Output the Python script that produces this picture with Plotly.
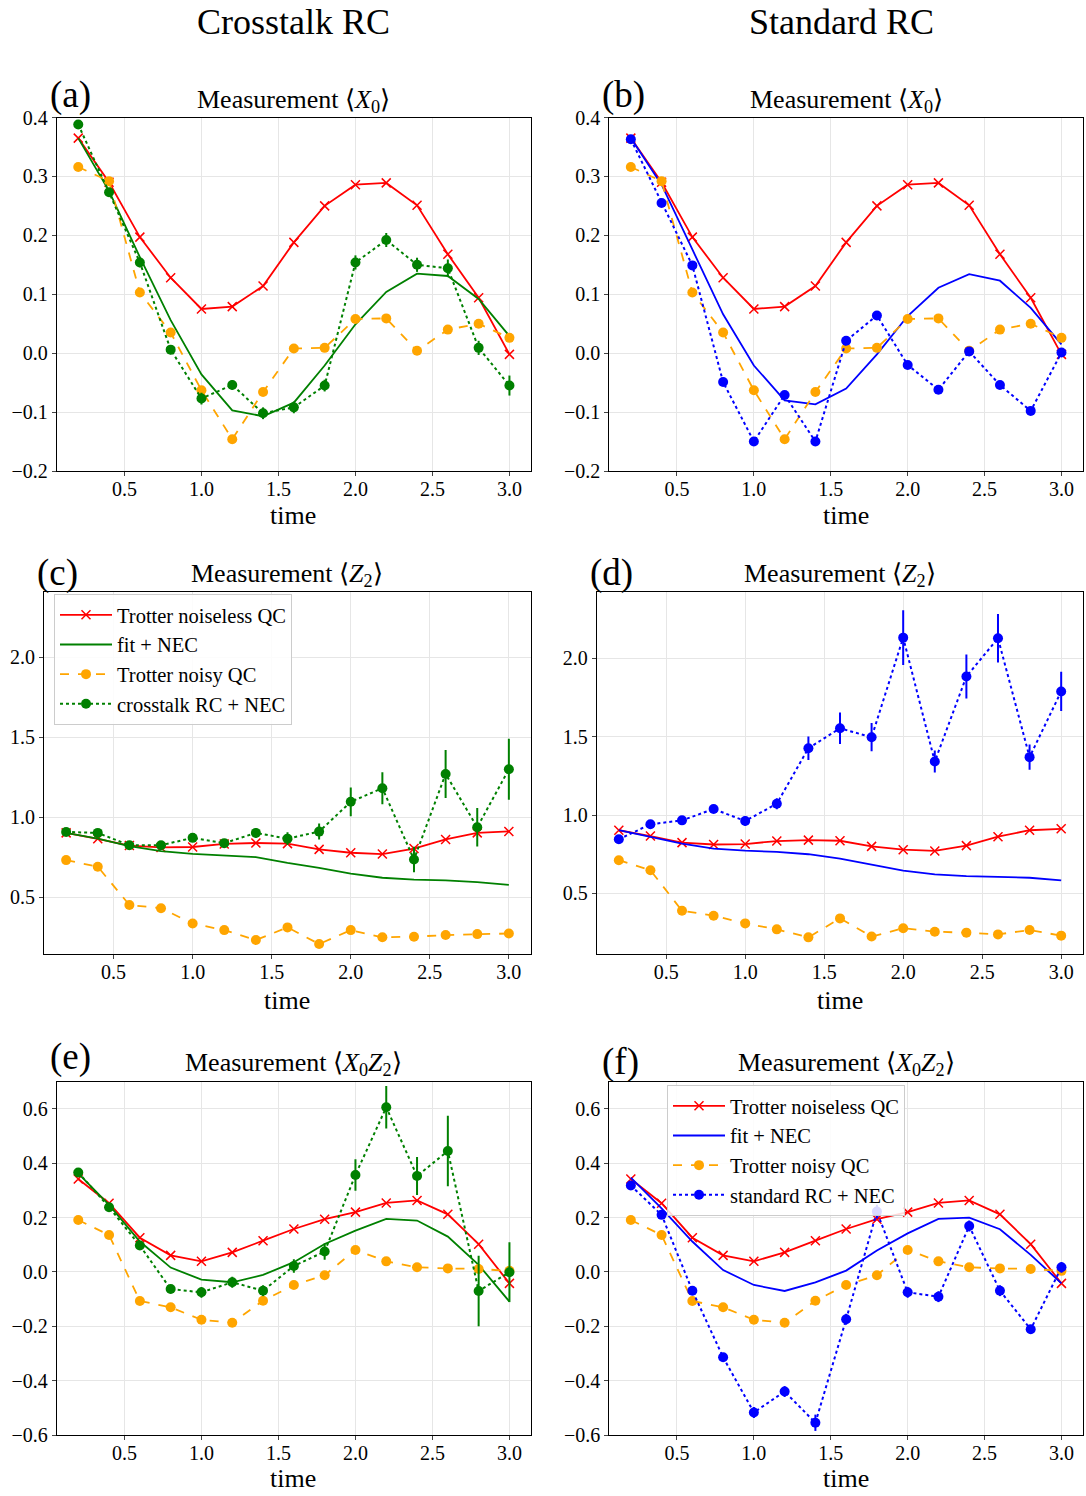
import plotly.graph_objects as go

time = [0.2, 0.4, 0.6, 0.8, 1.0, 1.2, 1.4, 1.6, 1.8, 2.0, 2.2, 2.4, 2.6, 2.8, 3.0]

# <X0>
x0_noiseless = [0.365, 0.290, 0.197, 0.128, 0.075, 0.079, 0.114, 0.188, 0.250, 0.286, 0.289, 0.251, 0.168, 0.094, -0.002]
x0_noisy = [0.316, 0.292, 0.103, 0.035, -0.063, -0.146, -0.066, 0.008, 0.009, 0.058, 0.059, 0.004, 0.040, 0.050, 0.026]
x0_fit_ct = [0.365, 0.275, 0.163, 0.056, -0.036, -0.097, -0.107, -0.084, -0.021, 0.049, 0.104, 0.135, 0.131, 0.092, 0.029]
x0_rc_ct = [0.388, 0.273, 0.154, 0.006, -0.077, -0.054, -0.102, -0.092, -0.055, 0.154, 0.192, 0.150, 0.144, 0.009, -0.055]
x0_rc_ct_err = [0.005, 0.005, 0.008, 0.008, 0.010, 0.008, 0.010, 0.010, 0.010, 0.012, 0.012, 0.012, 0.015, 0.012, 0.017]
x0_fit_std = [0.365, 0.286, 0.176, 0.066, -0.021, -0.080, -0.087, -0.060, -0.002, 0.063, 0.111, 0.134, 0.123, 0.077, 0.015]
x0_rc_std = [0.363, 0.255, 0.149, -0.049, -0.150, -0.071, -0.150, 0.021, 0.064, -0.020, -0.062, 0.003, -0.054, -0.098, 0.001]
x0_rc_std_err = [0.005] * 15

# <Z2>
z2_noiseless = [0.903, 0.866, 0.824, 0.812, 0.815, 0.834, 0.840, 0.836, 0.800, 0.779, 0.771, 0.805, 0.862, 0.903, 0.912]
z2_noisy_ct = [0.733, 0.692, 0.453, 0.433, 0.337, 0.296, 0.234, 0.313, 0.209, 0.296, 0.251, 0.255, 0.265, 0.271, 0.275]
z2_fit_ct = [0.903, 0.867, 0.820, 0.789, 0.772, 0.764, 0.752, 0.716, 0.685, 0.648, 0.623, 0.611, 0.607, 0.596, 0.578]
z2_rc_ct = [0.909, 0.903, 0.826, 0.826, 0.872, 0.839, 0.903, 0.867, 0.911, 1.097, 1.182, 0.737, 1.271, 0.938, 1.300]
z2_rc_ct_err = [0.01, 0.015, 0.015, 0.015, 0.02, 0.02, 0.03, 0.04, 0.05, 0.09, 0.10, 0.08, 0.15, 0.12, 0.19]
z2_noisy_std = [0.712, 0.648, 0.390, 0.358, 0.309, 0.271, 0.220, 0.341, 0.225, 0.278, 0.256, 0.250, 0.239, 0.267, 0.231]
z2_fit_std = [0.903, 0.860, 0.818, 0.786, 0.773, 0.765, 0.750, 0.722, 0.684, 0.646, 0.621, 0.610, 0.606, 0.600, 0.583]
z2_rc_std = [0.845, 0.941, 0.966, 1.038, 0.962, 1.072, 1.426, 1.553, 1.496, 2.131, 1.341, 1.883, 2.127, 1.369, 1.788]
z2_rc_std_err = [0.02, 0.02, 0.02, 0.02, 0.03, 0.035, 0.075, 0.10, 0.09, 0.175, 0.07, 0.14, 0.155, 0.08, 0.125]

# <X0 Z2>
xz_noiseless = [0.342, 0.253, 0.126, 0.061, 0.039, 0.072, 0.115, 0.158, 0.194, 0.220, 0.254, 0.263, 0.212, 0.102, -0.042]
xz_noisy = [0.191, 0.136, -0.107, -0.130, -0.176, -0.187, -0.106, -0.048, -0.012, 0.081, 0.039, 0.017, 0.013, 0.011, 0.004]
xz_fit_ct = [0.363, 0.247, 0.112, 0.016, -0.028, -0.038, -0.011, 0.036, 0.103, 0.152, 0.195, 0.189, 0.130, 0.026, -0.109]
xz_rc_ct = [0.366, 0.238, 0.097, -0.063, -0.075, -0.038, -0.069, 0.022, 0.075, 0.357, 0.606, 0.353, 0.445, -0.070, -0.001]
xz_rc_ct_err = [0.01, 0.01, 0.015, 0.015, 0.02, 0.02, 0.02, 0.025, 0.03, 0.058, 0.078, 0.07, 0.13, 0.13, 0.11]
xz_fit_std = [0.347, 0.234, 0.112, 0.007, -0.048, -0.070, -0.038, 0.005, 0.079, 0.142, 0.195, 0.200, 0.157, 0.063, -0.042]
xz_rc_std = [0.318, 0.210, -0.069, -0.314, -0.517, -0.440, -0.555, -0.174, 0.222, -0.075, -0.091, 0.169, -0.069, -0.211, 0.017]
xz_rc_std_err = [0.01, 0.01, 0.015, 0.015, 0.02, 0.02, 0.03, 0.02, 0.025, 0.02, 0.02, 0.02, 0.02, 0.015, 0.02]

x_ticks = [0.5, 1.0, 1.5, 2.0, 2.5, 3.0]

W, H = 1086, 1496
FONT = "Liberation Serif"


def px_x(p):
    return p / W


def px_y(p):
    return 1 - p / H


# panel domains (pixels: left, right, top, bottom)
panels = {
    "a": (56.7, 531, 117.5, 471),
    "b": (609.3, 1083, 117.5, 471),
    "c": (44, 531, 592.3, 954.3),
    "d": (596.7, 1083.3, 592.3, 954.3),
    "e": (56.7, 531, 1081.7, 1435),
    "f": (609.3, 1083, 1081.7, 1435),
}
yranges = {
    "a": [-0.2, 0.4], "b": [-0.2, 0.4],
    "c": [0.145, 2.405], "d": [0.112, 2.42],
    "e": [-0.6, 0.7], "f": [-0.6, 0.7],
}
ydtick = {"a": 0.1, "b": 0.1, "c": 0.5, "d": 0.5, "e": 0.2, "f": 0.2}
ytick0 = {"a": -0.2, "b": -0.2, "c": 0.5, "d": 0.5, "e": -0.6, "f": -0.6}

fig = go.Figure()
layout = dict(
    width=W, height=H, autosize=False,
    margin=dict(l=0, r=0, t=0, b=0, pad=0, autoexpand=False),
    paper_bgcolor="white", plot_bgcolor="white",
    font=dict(family=FONT, size=20, color="black"),
)

axis_idx = {}
for i, (k, (l, r, t, b)) in enumerate(panels.items()):
    n = i + 1
    axis_idx[k] = n
    xa = "xaxis" if n == 1 else f"xaxis{n}"
    ya = "yaxis" if n == 1 else f"yaxis{n}"
    layout[xa] = dict(
        domain=[px_x(l), px_x(r)], range=[0.06, 3.14], anchor=f"y{'' if n == 1 else n}",
        tickvals=x_ticks, tickformat=".1f", ticks="outside", ticklen=4, tickwidth=1,
        ticklabelstandoff=-4,
        showline=True, linecolor="black", linewidth=1, mirror=True, automargin=False,
        showgrid=True, gridcolor="#e6e6e6", gridwidth=1, zeroline=False,
        tickfont=dict(size=20, family=FONT),
    )
    layout[ya] = dict(
        domain=[px_y(b), px_y(t)], range=yranges[k], anchor=f"x{'' if n == 1 else n}",
        tick0=ytick0[k], dtick=ydtick[k], tickformat=".1f", ticks="outside", ticklen=4, tickwidth=1,
        showline=True, linecolor="black", linewidth=1, mirror=True, automargin=False,
        showgrid=True, gridcolor="#e6e6e6", gridwidth=1, zeroline=False,
        tickfont=dict(size=20, family=FONT),
    )


def add_panel(k, noiseless, fit, noisy, rc, rc_err, color, rc_name, legend=None):
    n = axis_idx[k]
    xr = "x" if n == 1 else f"x{n}"
    yr = "y" if n == 1 else f"y{n}"
    show = legend is not None
    lg = legend if legend else "legend"
    fig.add_trace(go.Scatter(
        x=time, y=noiseless, mode="lines+markers", name="Trotter noiseless QC",
        line=dict(color="red", width=1.8),
        marker=dict(symbol="x-thin-open", size=9, line=dict(color="red", width=1.5), color="red"),
        xaxis=xr, yaxis=yr, showlegend=show, legend=lg))
    fig.add_trace(go.Scatter(
        x=time, y=fit, mode="lines", name="fit + NEC",
        line=dict(color=color, width=1.8),
        xaxis=xr, yaxis=yr, showlegend=show, legend=lg))
    fig.add_trace(go.Scatter(
        x=time, y=noisy, mode="lines+markers", name="Trotter noisy QC",
        line=dict(color="orange", width=1.8, dash="dash"),
        marker=dict(symbol="circle", size=10, color="orange"),
        xaxis=xr, yaxis=yr, showlegend=show, legend=lg))
    fig.add_trace(go.Scatter(
        x=time, y=rc, mode="lines+markers", name=rc_name,
        line=dict(color=color, width=2, dash="dot"),
        marker=dict(symbol="circle", size=10, color=color),
        error_y=dict(type="data", array=rc_err, visible=True, color=color, thickness=2, width=0),
        xaxis=xr, yaxis=yr, showlegend=show, legend=lg))


add_panel("a", x0_noiseless, x0_fit_ct, x0_noisy, x0_rc_ct, x0_rc_ct_err, "green", "crosstalk RC + NEC")
add_panel("b", x0_noiseless, x0_fit_std, x0_noisy, x0_rc_std, x0_rc_std_err, "blue", "standard RC + NEC")
add_panel("c", z2_noiseless, z2_fit_ct, z2_noisy_ct, z2_rc_ct, z2_rc_ct_err, "green", "crosstalk RC + NEC", legend="legend")
add_panel("d", z2_noiseless, z2_fit_std, z2_noisy_std, z2_rc_std, z2_rc_std_err, "blue", "standard RC + NEC")
add_panel("e", xz_noiseless, xz_fit_ct, xz_noisy, xz_rc_ct, xz_rc_ct_err, "green", "crosstalk RC + NEC")
add_panel("f", xz_noiseless, xz_fit_std, xz_noisy, xz_rc_std, xz_rc_std_err, "blue", "standard RC + NEC", legend="legend2")

legend_style = dict(
    bgcolor="rgba(255,255,255,0.85)", bordercolor="#cccccc", borderwidth=1,
    font=dict(family=FONT, size=20.5), xanchor="left", yanchor="top",
    tracegroupgap=0, itemwidth=52, traceorder="normal",
)
layout["legend"] = dict(x=px_x(54), y=px_y(594), **legend_style)
layout["legend2"] = dict(x=px_x(667), y=px_y(1085), **legend_style)

annotations = []


def txt(x, y, s, size, xanchor="center", yanchor="middle"):
    annotations.append(dict(
        x=px_x(x), y=px_y(y), xref="paper", yref="paper", text=s, showarrow=False,
        font=dict(family=FONT, size=size, color="black"), xanchor=xanchor, yanchor=yanchor))


txt(293, 0, "Crosstalk RC", 36, yanchor="top")
txt(841, 0, "Standard RC", 36, yanchor="top")

titles = {
    "a": (293, 101, "Measurement ⟨<i>X</i><sub>0</sub>⟩"),
    "b": (846, 101, "Measurement ⟨<i>X</i><sub>0</sub>⟩"),
    "c": (287, 575, "Measurement ⟨<i>Z</i><sub>2</sub>⟩"),
    "d": (840, 575, "Measurement ⟨<i>Z</i><sub>2</sub>⟩"),
    "e": (293, 1064, "Measurement ⟨<i>X</i><sub>0</sub><i>Z</i><sub>2</sub>⟩"),
    "f": (846, 1064, "Measurement ⟨<i>X</i><sub>0</sub><i>Z</i><sub>2</sub>⟩"),
}
for k, (x, y, s) in titles.items():
    txt(x, y, s, 26)

labels = {"a": (70, 95), "b": (623, 95), "c": (57, 573), "d": (611, 573), "e": (70, 1057), "f": (620, 1062)}
for k, (x, y) in labels.items():
    txt(x, y, f"({k})", 37)

for x, y in [(293, 515), (846, 515), (287, 1000), (840, 1000), (293, 1478), (846, 1478)]:
    txt(x, y, "time", 26)

layout["annotations"] = annotations
fig.update_layout(**layout)
fig.write_html(
    "out.html",
    config={"displayModeBar": False},
    post_script="document.body.style.margin='0';document.body.style.padding='0';"
                "var d=document.getElementById('{plot_id}');var p=d.parentElement;"
                "p.style.margin='0';p.style.padding='0';p.style.lineHeight='0';p.style.fontSize='0';",
)
